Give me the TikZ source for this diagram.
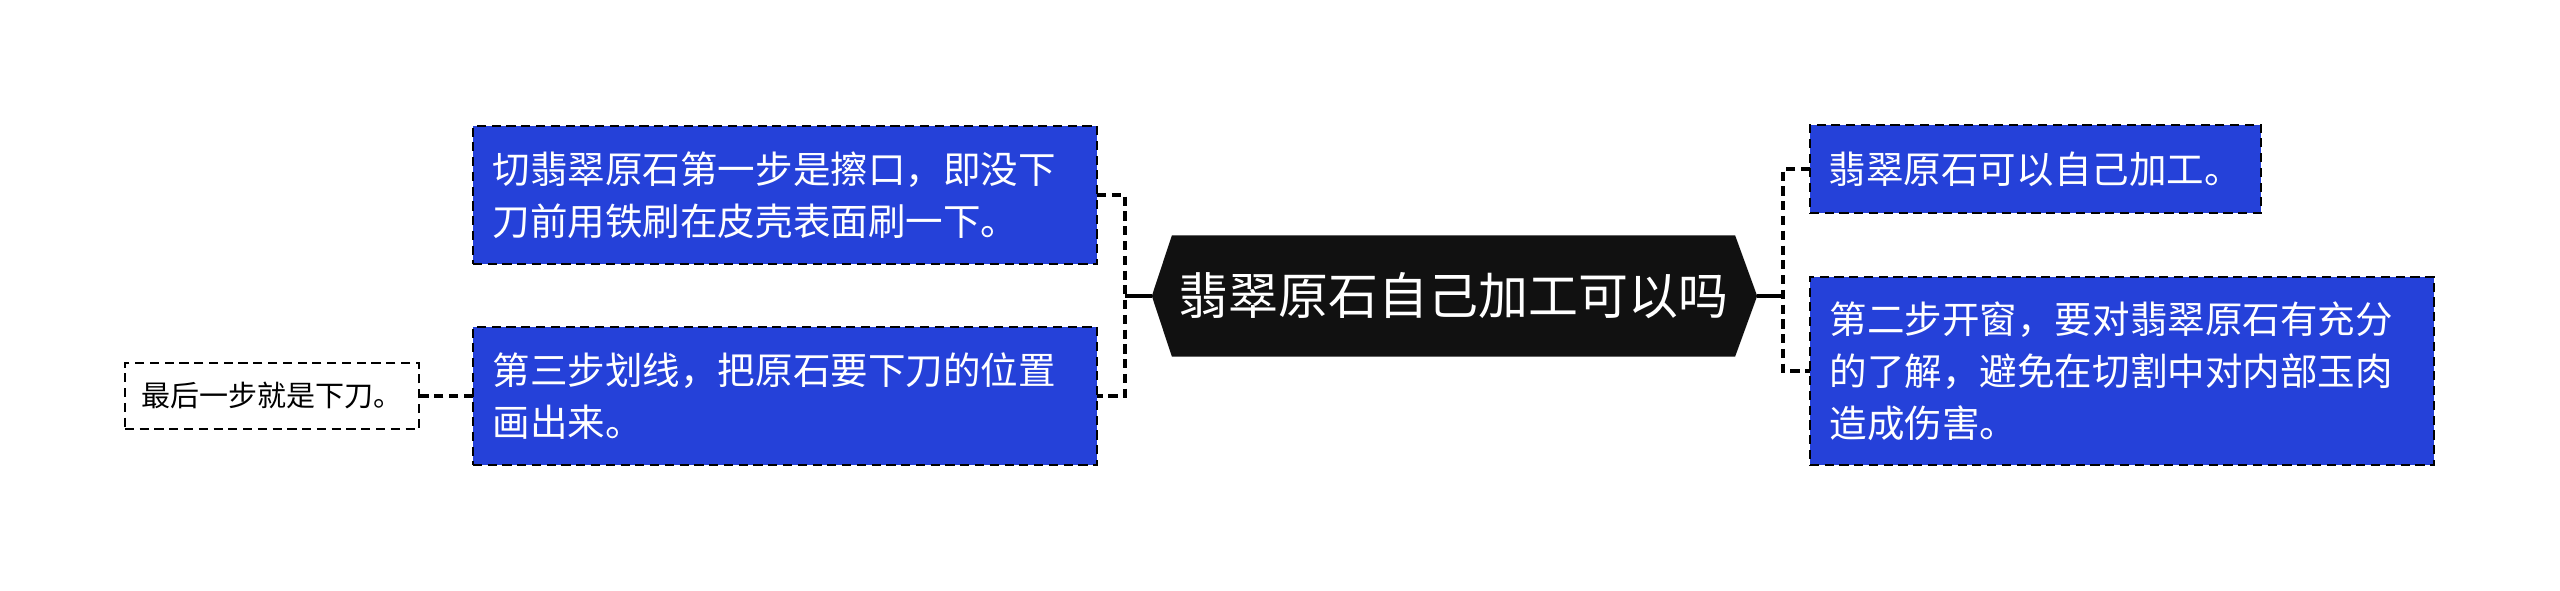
\documentclass[tikz,border=0pt]{standalone}
\usepackage{fontspec}
\setmainfont{Noto Sans CJK SC}
\usetikzlibrary{calc, backgrounds}
\definecolor{topicblue}{HTML}{2541D9}
\definecolor{rootblack}{HTML}{111111}

\begin{document}
\begin{tikzpicture}[x=0.01cm, y=-0.01cm,
  every node/.style={inner sep=0pt, outer sep=0pt},
  root/.style={minimum width=5.63cm, minimum height=1.21cm, text=white,
    font=\fontsize{14.2pt}{17pt}\selectfont},
  topic/.style={draw=black, fill=topicblue, line width=0.7pt, dash pattern=on 2.6pt off 1.6pt,
    text=white, align=left, inner xsep=0.2cm, text width=#1,
    font=\fontsize{10.67pt}{14.8pt}\selectfont},
  leaf/.style={draw=black, fill=white, line width=0.7pt, dash pattern=on 2.6pt off 1.6pt,
    minimum width=2.94cm, minimum height=0.66cm, font=\fontsize{8.25pt}{10pt}\selectfont},
  link/.style={line width=1.05pt, dash pattern=on 2.6pt off 1.6pt},
  stem/.style={line width=1.05pt}
]
\useasboundingbox (0,0) rectangle (2560,591);

% Central topic (hexagon drawn behind the text)
\node[root] (root) at (1453.5,296) {翡翠原石自己加工可以吗};
\coordinate (rootL) at ($(root.west)+(-20,0)$);
\coordinate (rootR) at ($(root.east)+(22,0)$);
\begin{scope}[on background layer]
  \fill[rootblack] (root.north west) -- (root.north east) -- (rootR)
    -- (root.south east) -- (root.south west) -- (rootL) -- cycle;
\end{scope}

% Left branch
\node[topic=5.84cm, minimum height=1.38cm] (cut) at (785,195)
  {切翡翠原石第一步是擦口，即没下\\刀前用铁刷在皮壳表面刷一下。};
\node[topic=5.84cm, minimum height=1.38cm] (scribe) at (785,396)
  {第三步划线，把原石要下刀的位置\\画出来。};
\node[leaf] (final) at (272,396) {最后一步就是下刀。};

% Right branch
\node[topic=4.13cm, inner xsep=0.19cm, minimum height=0.88cm] (self) at (2035.5,169)
  {翡翠原石可以自己加工。};
\node[topic=5.84cm, minimum height=1.88cm] (window) at (2122,371)
  {第二步开窗，要对翡翠原石有充分\\的了解，避免在切割中对内部玉肉\\造成伤害。};

% Connectors
\coordinate (lj) at (1125,296);
\coordinate (rj) at (1783,296);
\draw[stem] (rootL) -- (lj);
\draw[stem] (rootR) -- (rj);
\draw[link] (cut.east) -| (lj) |- (scribe.east);
\draw[link] (self.west) -| (rj) |- (window.west);
\draw[link] (scribe.west) -- (final.east);

\end{tikzpicture}
\end{document}
